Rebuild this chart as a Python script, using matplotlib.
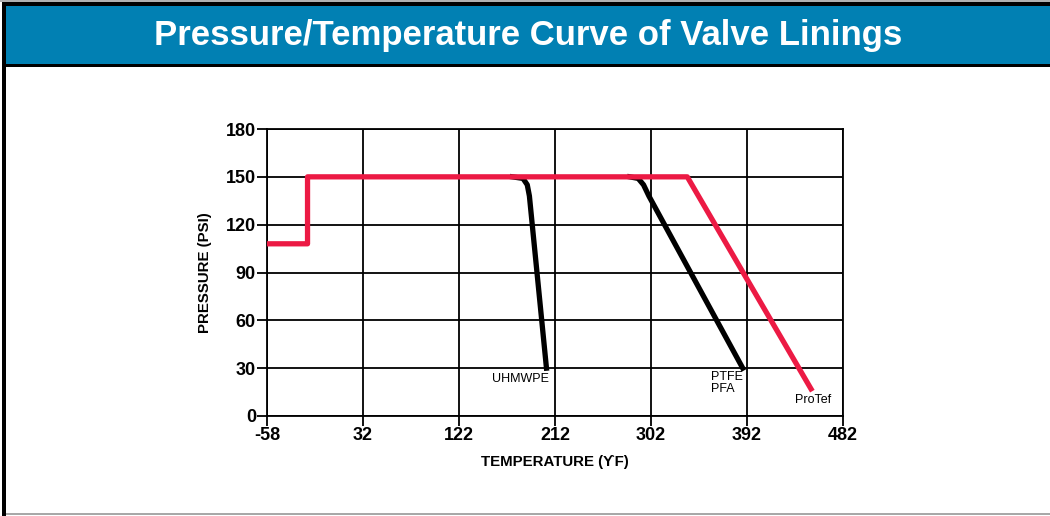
import matplotlib.pyplot as plt
from matplotlib.patches import Rectangle

plt.rcParams['font.family'] = ['Liberation Sans', 'DejaVu Sans']
plt.rcParams['axes.unicode_minus'] = False

# data
protef_x = [-58, -20, -20, 336, 452]
protef_y = [108, 108, 150, 150, 17]
uhmwpe_x = [172, 182, 186, 188, 204]
uhmwpe_y = [150, 149, 145, 138, 30]
ptfe_x = [282, 290, 295, 300, 388]
ptfe_y = [150, 149, 145, 138, 30]

xticks = [-58, 32, 122, 212, 302, 392, 482]
yticks = [0, 30, 60, 90, 120, 150, 180]

W, H = 1050, 516
fig = plt.figure(figsize=(W / 100, H / 100), dpi=100)

def box(x0, y0, x1, y1, color):
    # pixel box (top-left origin) -> figure coords
    fig.patches.append(Rectangle((x0 / W, 1 - y1 / H), (x1 - x0) / W, (y1 - y0) / H,
                                 transform=fig.transFigure, color=color, zorder=0, lw=0))

box(0, 0, W, 2, '#b0b0b0')
box(2, 2, W, 67, 'black')
box(6, 6, W, 64, '#0180b3')
box(2, 2, 6, H, 'black')
box(6, 513, W, 515, '#a8a8a8')

fig.text(528 / W, 1 - 35 / H, 'Pressure/Temperature Curve of Valve Linings',
         color='white', fontsize=25, fontweight='bold', ha='center', va='center')

ax = fig.add_axes([267 / W, 1 - 416 / H, (843 - 267) / W, (416 - 129) / H])
ax.set_xlim(-58, 482)
ax.set_ylim(0, 180)
ax.set_xticks(xticks)
ax.set_yticks(yticks)
ax.grid(True, color='black', lw=1.3)
ax.set_axisbelow(True)
for s in ax.spines.values():
    s.set_linewidth(1.3)
ax.tick_params(length=7, width=1.3, labelsize=13, pad=1)
for lab in ax.get_xticklabels() + ax.get_yticklabels():
    lab.set_fontweight('bold')

ax.plot(uhmwpe_x, uhmwpe_y, color='black', lw=3.8, solid_joinstyle='round', zorder=3)
ax.plot(ptfe_x, ptfe_y, color='black', lw=3.8, solid_joinstyle='round', zorder=3)
ax.plot(protef_x, protef_y, color='#ec1a44', lw=3.8, solid_joinstyle='round', zorder=4)

ax.text(180, 23, 'UHMWPE', fontsize=9, ha='center', va='center')
ax.text(358, 28.5, 'PTFE\nPFA', fontsize=9, ha='left', va='top', linespacing=1.05)
ax.text(437, 10, 'ProTef', fontsize=9, ha='left', va='center')

ax.set_xlabel('TEMPERATURE (ϒF)', fontsize=10.8, fontweight='bold', labelpad=8)
ax.set_ylabel('PRESSURE (PSI)', fontsize=10.8, fontweight='bold', labelpad=10)

fig.savefig('out.png', dpi=100)
